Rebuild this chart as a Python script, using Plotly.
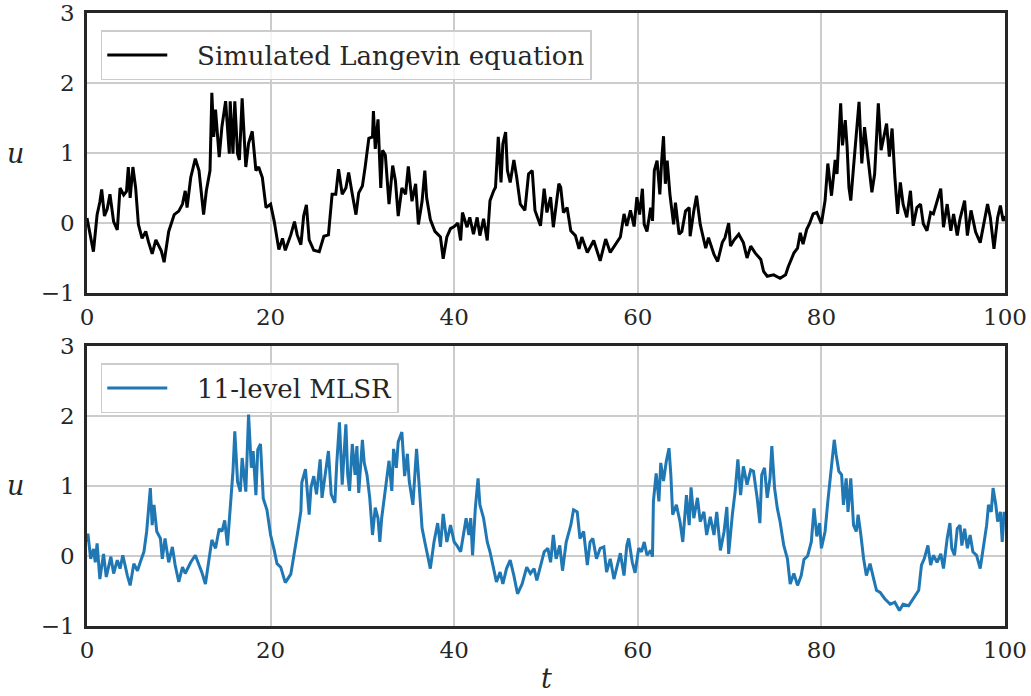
import plotly.graph_objects as go

# ---- data ----
t_sim = [0.0,0.3,0.7,1.1,1.4,1.6,1.9,2.2,2.5,2.9,3.3,3.6,4.0,4.3,4.5,4.7,5.0,5.3,5.6,6.0,6.4,6.7,7.1,7.5,7.8,8.1,8.4,8.9,9.5,10.0,
         10.4,10.7,10.9,11.3,11.8,12.2,12.4,12.7,13.0,13.4,13.6,13.8,14.0,14.4,14.7,15.1,15.5,15.6,15.9,16.1,16.4,16.6,16.9,17.3,17.6,18.0,18.4,18.7,19.1,19.5,
         20.0,20.4,20.9,21.3,21.6,22.2,22.6,22.9,23.3,23.6,23.9,24.2,24.7,25.3,25.8,26.3,26.7,27.1,27.4,27.8,28.2,28.5,28.9,29.3,29.6,
         30.0,30.3,30.7,31.1,31.2,31.4,31.7,32.0,32.2,32.5,32.9,33.3,33.6,33.9,34.3,34.7,35.0,35.4,35.8,36.1,36.5,36.8,37.0,37.4,37.9,38.5,38.8,39.2,39.6,
         40.0,40.4,40.7,40.9,41.4,41.7,42.1,42.5,42.8,43.2,43.6,43.9,44.3,44.5,44.8,45.1,45.3,45.6,45.8,46.1,46.5,46.8,47.2,47.7,48.1,48.5,48.8,49.4,49.8,
         50.1,50.5,50.8,51.4,51.6,51.9,52.3,52.7,53.2,53.6,53.9,54.5,55.2,55.9,56.5,57.0,57.6,58.1,58.5,58.8,59.2,59.6,59.9,
         60.2,60.5,60.7,61.0,61.4,61.6,61.8,62.1,62.4,62.6,62.8,63.0,63.2,63.5,63.7,63.9,64.1,64.5,64.8,65.2,65.6,65.7,66.1,66.4,66.8,67.4,67.7,68.3,68.7,69.2,69.5,69.9,
         70.1,70.5,71.0,71.5,71.9,72.3,72.8,73.4,73.7,74.1,74.8,75.5,76.1,76.4,77.0,77.4,77.7,78.0,78.4,78.7,79.1,79.5,
         80.0,80.4,80.7,81.1,81.5,81.7,82.1,82.3,82.6,82.8,83.0,83.2,83.5,83.8,84.1,84.4,84.7,85.1,85.5,85.8,86.2,86.5,86.8,87.1,87.4,87.7,88.0,88.3,88.6,88.9,89.3,89.7,
         90.0,90.4,90.8,91.1,91.5,91.9,92.2,92.6,93.0,93.3,93.7,94.1,94.4,94.8,95.1,95.6,95.9,96.3,96.8,97.3,97.7,98.1,98.4,98.8,99.2,99.5,99.8,100.0]
u_sim = [0.07,-0.15,-0.41,0.12,0.3,0.48,0.1,0.2,0.41,0.02,-0.1,0.5,0.4,0.45,0.8,0.36,0.8,0.5,-0.02,-0.22,-0.12,-0.27,-0.44,-0.24,-0.31,-0.4,-0.56,-0.12,0.12,0.17,
         0.27,0.46,0.22,0.65,0.92,0.75,0.5,0.12,0.46,0.75,1.86,1.23,1.62,0.94,1.38,1.74,0.99,1.74,0.99,1.74,0.99,0.9,1.78,0.8,1.14,1.31,0.75,0.8,0.65,0.22,
         0.27,0.02,-0.38,-0.22,-0.39,-0.17,0.02,-0.17,-0.31,0.1,0.26,-0.24,-0.39,-0.41,-0.19,-0.17,0.41,0.41,0.77,0.41,0.5,0.72,0.41,0.12,0.43,
         0.53,0.8,1.21,1.23,1.6,1.06,1.48,0.5,1.04,0.97,0.27,0.82,0.6,0.1,0.5,0.41,0.81,0.31,0.56,-0.02,0.31,0.75,0.36,0.05,-0.12,-0.2,-0.51,-0.2,-0.08,
         -0.05,0.0,-0.25,0.15,-0.06,0.08,-0.16,0.08,-0.18,0.06,-0.25,0.32,0.46,0.51,1.23,0.58,1.13,1.3,0.75,0.58,0.9,0.66,0.27,0.18,0.7,0.75,0.18,-0.04,0.49,
         0.15,0.37,-0.06,0.56,0.51,0.15,0.22,-0.11,-0.18,-0.37,-0.2,-0.42,-0.25,-0.54,-0.23,-0.42,-0.3,-0.2,0.13,-0.04,0.18,-0.05,0.37,
         0.12,0.49,-0.02,-0.12,0.22,0.03,0.75,0.89,0.41,0.89,1.24,0.56,0.89,0.41,0.22,-0.02,0.29,-0.16,-0.12,0.17,0.22,-0.19,0.17,0.39,-0.02,-0.36,-0.21,-0.45,-0.55,-0.28,-0.21,0.0,
         -0.33,-0.24,-0.16,-0.28,-0.5,-0.33,-0.43,-0.52,-0.69,-0.76,-0.74,-0.79,-0.74,-0.62,-0.43,-0.36,-0.14,-0.3,-0.09,-0.01,0.13,0.15,
         -0.01,0.32,0.85,0.39,0.9,0.7,1.71,1.11,1.47,1.09,0.51,0.32,0.8,1.23,1.73,0.85,1.37,0.9,0.44,0.7,1.71,1.04,1.23,1.42,0.95,1.35,0.66,0.13,0.58,0.27,0.08,0.46,
         -0.04,0.22,0.27,-0.01,-0.11,0.15,0.13,0.32,0.49,-0.06,0.27,-0.11,0.13,-0.18,0.06,0.32,-0.18,0.18,-0.13,-0.28,-0.01,0.27,0.08,-0.37,0.08,0.25,0.03,0.1]

t_mlsr = [0.0,0.1,0.4,0.7,0.9,1.1,1.4,1.8,2.1,2.6,2.9,3.3,3.6,3.9,4.4,4.7,5.1,5.5,5.8,6.2,6.5,6.9,7.1,7.3,7.6,8.0,8.2,8.5,8.9,9.3,9.6,
          10.0,10.4,10.7,11.3,11.8,12.2,12.5,12.9,13.3,13.6,14.0,14.4,14.7,15.0,15.3,15.6,15.9,16.1,16.4,16.7,16.9,17.3,17.6,17.9,18.1,18.4,18.6,18.9,19.2,19.6,
          20.0,20.4,20.7,21.1,21.6,22.2,22.5,22.9,23.3,23.4,23.8,24.0,24.2,24.4,24.7,25.0,25.4,25.6,26.0,26.3,26.6,27.0,27.2,27.5,27.8,28.2,28.4,28.6,28.9,29.2,29.4,29.6,
          30.0,30.2,30.5,30.8,31.1,31.4,31.7,31.9,32.1,32.5,32.9,33.2,33.4,33.7,33.9,34.3,34.6,34.9,35.1,35.5,35.9,36.2,36.5,36.8,37.4,37.8,38.2,38.5,38.8,39.2,39.6,
          40.0,40.3,40.7,41.0,41.3,41.6,41.8,42.0,42.3,42.6,42.8,43.2,43.6,43.9,44.3,44.6,45.0,45.3,45.7,46.1,46.5,46.9,47.4,47.9,48.3,48.7,49.0,49.4,49.8,
          50.2,50.5,50.8,51.1,51.5,51.8,52.2,52.7,53.0,53.4,53.7,54.1,54.5,54.8,55.1,55.5,55.9,56.3,56.6,57.0,57.4,57.7,58.1,58.5,58.8,59.0,59.4,59.7,59.9,
          60.1,60.4,60.7,61.0,61.4,61.6,61.7,62.0,62.3,62.5,62.8,63.1,63.4,63.6,63.8,64.2,64.6,64.9,65.3,65.6,65.8,66.1,66.5,66.8,67.2,67.5,67.9,68.3,68.6,69.0,69.4,69.7,69.9,
          70.3,70.6,70.9,71.2,71.5,71.9,72.3,72.6,73.0,73.3,73.5,73.8,74.1,74.4,74.6,74.9,75.2,75.5,75.9,76.3,76.6,77.0,77.4,77.8,78.1,78.5,78.9,79.2,79.5,79.8,
          80.0,80.4,80.7,81.0,81.2,81.4,81.6,81.9,82.2,82.4,82.7,82.9,83.2,83.5,83.8,84.0,84.3,84.6,84.9,85.3,85.7,86.0,86.4,86.9,87.5,88.0,88.5,88.9,89.5,
          90.0,90.6,90.9,91.2,91.6,91.9,92.2,92.6,93.0,93.3,93.7,94.0,94.2,94.5,94.8,95.1,95.3,95.6,95.9,96.2,96.5,96.9,97.3,97.7,98.0,98.2,98.5,98.7,99.0,99.2,99.5,99.7,99.9,100.0]
u_mlsr = [0.2,0.32,-0.04,0.1,-0.09,0.18,-0.33,0.03,-0.3,-0.01,-0.25,-0.06,-0.18,0.01,-0.28,-0.42,-0.11,-0.21,-0.09,0.06,0.35,0.97,0.44,0.73,0.35,0.25,-0.04,0.25,-0.09,0.13,-0.13,
          -0.37,-0.16,-0.25,-0.09,0.01,-0.13,-0.23,-0.4,-0.04,0.23,0.11,0.39,0.35,0.51,0.15,0.68,1.21,1.78,1.06,0.92,1.4,0.92,2.02,1.26,1.5,0.87,1.52,1.6,0.82,0.66,
          0.3,0.08,-0.11,-0.16,-0.38,-0.26,0.01,0.3,0.64,1.05,1.24,0.88,0.59,0.98,1.14,0.88,1.38,0.83,1.21,1.5,0.88,0.76,1.31,1.91,1.02,1.88,1.16,0.93,1.6,1.16,1.57,0.9,
          1.66,1.33,1.16,0.83,0.3,0.69,0.54,0.2,0.54,0.98,1.36,0.93,1.53,1.26,1.63,1.77,1.14,1.46,1.07,0.73,1.53,0.98,0.4,0.2,-0.18,0.2,0.47,0.13,0.6,0.2,0.44,
          0.2,0.15,0.06,0.3,0.54,0.3,0.54,0.01,0.68,1.11,0.73,0.54,0.2,0.06,-0.18,-0.37,-0.23,-0.4,-0.18,-0.06,-0.28,-0.54,-0.4,-0.16,-0.25,-0.18,-0.35,-0.16,0.06,
          0.11,-0.09,0.3,-0.04,0.15,-0.21,0.2,0.44,0.66,0.63,0.25,0.35,-0.13,0.2,0.25,-0.04,0.11,0.13,-0.23,-0.04,-0.33,-0.18,0.04,-0.28,0.15,0.25,-0.09,-0.24,-0.04,
          0.11,0.06,0.2,0.01,0.08,-0.01,0.78,1.18,0.78,1.33,1.07,1.35,1.54,1.16,0.59,0.73,0.49,0.2,0.87,0.44,0.98,0.54,0.83,0.49,0.63,0.3,0.56,0.3,0.63,0.08,0.35,0.7,0.03,
          0.59,0.92,1.38,0.87,1.28,1.02,1.23,1.21,0.83,0.47,1.16,1.26,0.83,1.11,1.57,0.97,0.68,0.49,0.15,-0.04,-0.4,-0.25,-0.42,-0.28,-0.05,0.0,0.2,0.68,0.28,0.47,
          0.11,0.35,0.78,1.14,1.35,1.66,1.45,1.21,1.16,0.73,1.11,0.63,1.11,0.44,0.35,0.59,0.3,-0.04,-0.28,-0.11,-0.33,-0.49,-0.52,-0.61,-0.69,-0.66,-0.78,-0.69,-0.71,
          -0.61,-0.49,-0.13,-0.04,0.15,-0.13,0.01,-0.09,0.03,-0.18,0.25,0.47,0.11,0.01,0.39,0.44,0.15,0.39,0.11,0.3,0.06,0.01,-0.18,0.2,0.44,0.73,0.63,0.97,0.73,0.49,0.63,0.2,0.63,0.5]

x_ticks = [0, 20, 40, 60, 80, 100]
x_ticktext = ["0", "20", "40", "60", "80", "100"]
y_ticks = [-1, 0, 1, 2, 3]
y_ticktext = ["\u22121", "0", "1", "2", "3"]

FONT = "DejaVu Serif"
TXT = "#262626"
PAD = "&nbsp;&nbsp;&nbsp;"

fig = go.Figure()
fig.add_trace(go.Scatter(x=t_sim, y=u_sim, mode="lines", name=PAD + "Simulated Langevin equation",
                         line=dict(color="black", width=3), xaxis="x", yaxis="y", legend="legend"))
fig.add_trace(go.Scatter(x=t_mlsr, y=u_mlsr, mode="lines", name=PAD + "11-level MLSR",
                         line=dict(color="#1f77b4", width=3), xaxis="x2", yaxis="y2", legend="legend2"))

ax_common = dict(showgrid=True, gridcolor="#cccccc", gridwidth=1.5, zeroline=False,
                 showline=True, mirror=True, linecolor=TXT, linewidth=2.5, automargin=False,
                 ticklabeloverflow="allow",
                 ticks="", tickfont=dict(family=FONT, size=23, color=TXT))

leg_common = dict(xanchor="left", yanchor="top", bgcolor="rgba(255,255,255,0.8)",
                  bordercolor="#cccccc", borderwidth=1.5, itemwidth=60,
                  font=dict(family=FONT, size=26, color=TXT))

fig.update_layout(
    width=1031, height=696,
    margin=dict(l=87, r=26, t=13, b=70),
    plot_bgcolor="white", paper_bgcolor="white",
    font=dict(family=FONT, color=TXT),
    xaxis=dict(domain=[0, 1], range=[0, 100], tickvals=x_ticks, ticktext=x_ticktext,
               anchor="y", ticklabelstandoff=2, **ax_common),
    yaxis=dict(domain=[0.5432, 1], range=[-1, 3], tickvals=y_ticks, ticktext=y_ticktext,
               anchor="x", ticklabelstandoff=5, **ax_common),
    xaxis2=dict(domain=[0, 1], range=[0, 100], tickvals=x_ticks, ticktext=x_ticktext,
                anchor="y2", ticklabelstandoff=2, **ax_common),
    yaxis2=dict(domain=[0, 0.4568], range=[-1, 3], tickvals=y_ticks, ticktext=y_ticktext,
                anchor="x2", ticklabelstandoff=5, **ax_common),
    legend=dict(x=0.015, y=0.972, **leg_common),
    legend2=dict(x=0.015, y=0.429, **leg_common),
    showlegend=True,
)

ann_font = dict(family=FONT, size=27, color=TXT)
fig.add_annotation(text="<i>u</i>", xref="paper", yref="paper", x=-0.0784, y=0.7716,
                   xanchor="center", yanchor="middle", showarrow=False, font=ann_font)
fig.add_annotation(text="<i>u</i>", xref="paper", yref="paper", x=-0.0784, y=0.2284,
                   xanchor="center", yanchor="middle", showarrow=False, font=ann_font)
fig.add_annotation(text="<i>t</i>", xref="paper", yref="paper", x=0.5, y=-0.086,
                   xanchor="center", yanchor="middle", showarrow=False, font=ann_font)

fig.write_html("out.html")
